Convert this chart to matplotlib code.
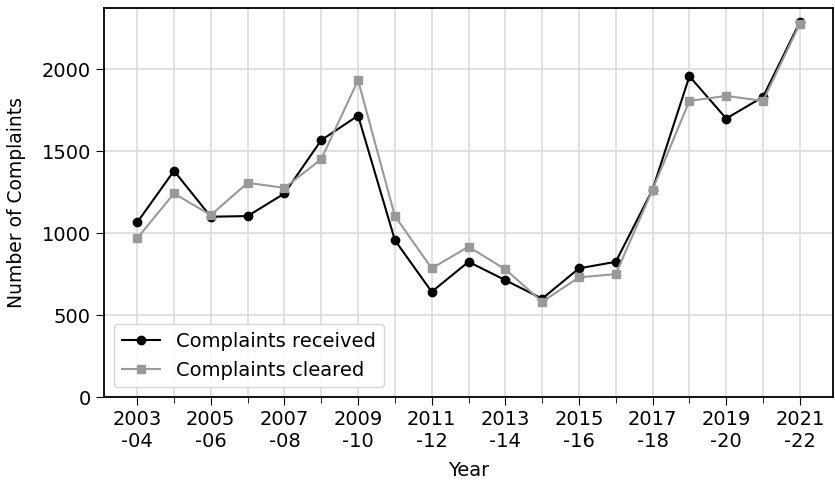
import matplotlib.pyplot as plt

# financial years, start year of each
years = list(range(2003, 2022))
received = [1065, 1380, 1100, 1104, 1242, 1567, 1717, 957, 642, 825,
            713, 600, 785, 825, 1266, 1957, 1699, 1831, 2288]
cleared = [968, 1242, 1110, 1307, 1276, 1451, 1933, 1104, 785, 917,
           779, 581, 730, 750, 1266, 1807, 1837, 1807, 2278]

tick_years = years[::2]
tick_labels = [f'{y}\n-{(y + 1) % 100:02d}' for y in tick_years]

plt.rcParams['font.size'] = 14

fig, ax = plt.subplots(figsize=(8.35, 4.83), dpi=100)
fig.subplots_adjust(left=0.1246, right=0.9976, top=0.9834, bottom=0.178)

ax.plot(years, received, color='black', marker='o', label='Complaints received', zorder=3)
ax.plot(years, cleared, color='#999999', marker='s', label='Complaints cleared', zorder=3)

ax.set_ylim(bottom=0)
ax.set_xticks(tick_years)
ax.set_xticklabels(tick_labels)
ax.set_xticks(years[1::2], minor=True)
ax.set_yticks([0, 500, 1000, 1500, 2000])
ax.tick_params(which='major', length=6)
ax.tick_params(which='minor', length=4)

ax.grid(which='both', color='#dddddd', linewidth=1.2)
ax.set_axisbelow(True)
for s in ax.spines.values():
    s.set_linewidth(1.3)

ax.set_xlabel('Year', labelpad=7)
ax.set_ylabel('Number of Complaints', fontsize=13.5, labelpad=11)
ax.legend(loc='lower left')

plt.savefig('out.png')
